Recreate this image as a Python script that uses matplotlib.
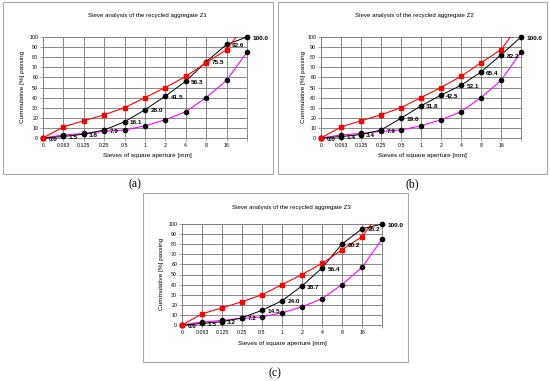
import matplotlib
matplotlib.use("Agg")
import matplotlib.pyplot as plt
from matplotlib.patches import Rectangle

W, H = 550, 381

sieves = ["0", "0.063", "0.125", "0.25", "0.5", "1", "2", "4", "8", "16", ""]
upper_limit = [0, 11, 17, 23, 30, 40, 50, 61, 74.5, 87.5, 114]
lower_limit = [0, 3, 4.5, 6.5, 8, 12, 18, 26, 40, 57, 85]
z1 = [0.0, 1.5, 3.8, 7.9, 16.1, 28.0, 41.5, 56.3, 75.5, 92.6, 100.0]
z2 = [0.0, 1.4, 3.4, 7.9, 19.6, 31.8, 42.5, 52.1, 65.4, 82.2, 100.0]
z3 = [0.0, 1.5, 3.2, 7.2, 14.5, 24.0, 38.7, 56.4, 80.2, 95.2, 100.0]
titles = ["Sieve analysis of the recycled aggregate Z1",
          "Sieve analysis of the recycled aggregate Z2",
          "Sieve analysis of the recycled aggregate Z3"]
panel_labels = ["(a)", "(b)", "(c)"]
xlabel = "Sieves of square aperture [mm]"
ylabel = "Cummulative [%] passing"

SANS = "Liberation Sans"
SERIF = "Liberation Serif"

panels = [
    dict(data=z1, box=(3, 2, 273, 174), ax=(43, 37, 247, 138), title=(147, 16),
         ylab=(23, 87), xlab=(147, 156), plab=(135, 184)),
    dict(data=z2, box=(278, 2, 547, 174), ax=(321, 37, 521, 138), title=(414, 16),
         ylab=(303, 87), xlab=(422, 156), plab=(412, 184)),
    dict(data=z3, box=(143, 193, 408, 362), ax=(182, 224, 382, 325), title=(291, 208),
         ylab=(161, 274), xlab=(282, 344), plab=(275, 373)),
]

fig = plt.figure(figsize=(W / 100, H / 100), dpi=100)
fig.patch.set_facecolor("white")


def fx(x):
    return x / W


def fy(y):
    return 1 - y / H


grid_c = "#808080"

for i, p in enumerate(panels):
    l, t, r, b = p["box"]
    fig.patches.append(Rectangle((fx(l), fy(b)), (r - l) / W, (b - t) / H,
                                 transform=fig.transFigure, facecolor="none",
                                 edgecolor="#a8a8a8", linewidth=0.8, zorder=-10))
    al, at, ar, ab = p["ax"]
    ax = fig.add_axes([fx(al), fy(ab), (ar - al) / W, (ab - at) / H])
    ax.set_zorder(1)
    ax.set_facecolor("white")
    x = list(range(len(sieves)))
    ax.set_xlim(0, len(sieves) - 1)
    ax.set_ylim(0, 100)
    ax.set_xticks(x)
    ax.set_xticklabels(sieves, fontsize=3.8, family=SANS)
    ax.set_yticks(range(0, 101, 10))
    ax.set_yticklabels([str(v) for v in range(0, 101, 10)], fontsize=3.8, family=SANS)
    ax.tick_params(axis="both", length=2, width=0.5, color=grid_c, pad=1.5)
    ax.grid(True, color=grid_c, linewidth=0.65)
    ax.set_axisbelow(True)
    for s in ax.spines.values():
        s.set_color(grid_c)
        s.set_linewidth(0.65)

    ax.plot(x, lower_limit, color="#ff00ff", linewidth=0.8, marker="o",
            markersize=3.0, markerfacecolor="black", markeredgecolor="black",
            clip_on=False, zorder=3)
    data = p["data"]
    ax.plot(x, data, color="black", linewidth=0.7, marker="o", markersize=3.1,
            markerfacecolor="black", markeredgecolor="black", clip_on=False, zorder=4)
    ax.plot(x, upper_limit, color="#ff0000", linewidth=0.8, clip_on=True, zorder=5)
    ax.plot(x, upper_limit, linestyle="none", marker="s", markersize=2.2,
            color="#ff0000", markevery=list(range(len(sieves) - 1)),
            clip_on=False, zorder=5)
    for xi, v in zip(x, data):
        ax.annotate(f"{v:.1f}", (xi, v), xytext=(3.8, -0.8), textcoords="offset points",
                    ha="left", va="center", fontsize=4.6, fontweight="bold",
                    family=SANS, annotation_clip=False, zorder=6)

    fig.text(fx(p["title"][0]), fy(p["title"][1]), titles[i], ha="center",
             va="center", fontsize=4.4, family=SANS)
    fig.text(fx(p["ylab"][0]), fy(p["ylab"][1]), ylabel, ha="center", va="center",
             rotation=90, fontsize=4.6, family=SANS)
    fig.text(fx(p["xlab"][0]), fy(p["xlab"][1]), xlabel, ha="center", va="center",
             fontsize=4.6, family=SANS)
    fig.text(fx(p["plab"][0]), fy(p["plab"][1]), panel_labels[i], ha="center",
             va="center", fontsize=8.5, family=SERIF)

fig.savefig("out.png", dpi=100, facecolor="white")
